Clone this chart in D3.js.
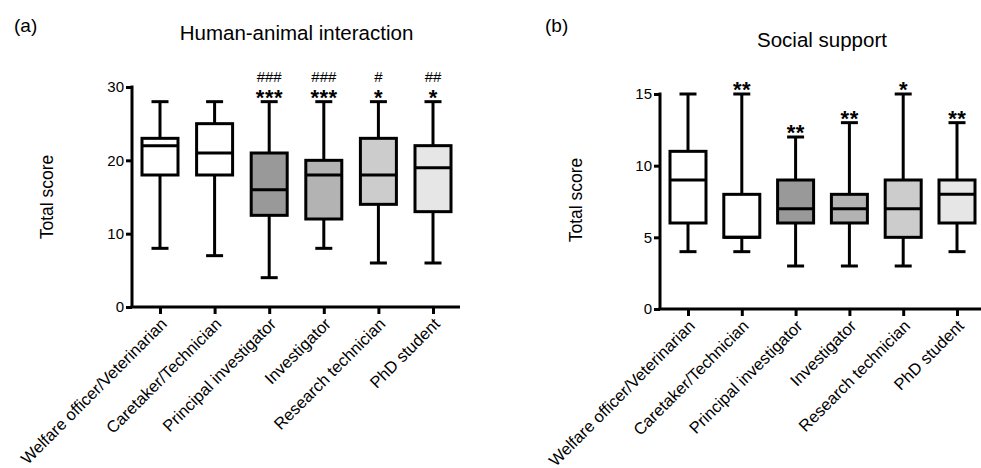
<!DOCTYPE html>
<html>
<head>
<meta charset="utf-8">
<script src="https://cdn.jsdelivr.net/npm/d3@7"></script>
<style>
  body { margin: 0; background: #fff; }
  svg { font-family: "Liberation Sans", Arial, sans-serif; }
</style>
</head>
<body>
<div id="chart"></div>
<script>
// groups (same order in both panels)
var groups = ["Welfare officer/Veterinarian", "Caretaker/Technician", "Principal investigator",
              "Investigator", "Research technician", "PhD student"];
var fills = ["#ffffff", "#ffffff", "#999999", "#b3b3b3", "#cccccc", "#e6e6e6"];

// Human-animal interaction: [min, q1, median, q3, max]
var haiStats = [
    [8, 18, 22, 23, 28],
    [7, 18, 21, 25, 28],
    [4, 12.5, 16, 21, 28],
    [8, 12, 18, 20, 28],
    [6, 14, 18, 23, 28],
    [6, 13, 19, 22, 28]
];
var haiStars = ["", "", "***", "***", "*", "*"];
var haiHash = ["", "", "###", "###", "#", "##"];
var haiTicks = [0, 10, 20, 30];

// Social support
var ssStats = [
    [4, 6, 9, 11, 15],
    [4, 5, 5, 8, 15],
    [3, 6, 7, 9, 12],
    [3, 6, 7, 8, 13],
    [3, 5, 7, 9, 15],
    [4, 6, 8, 9, 13]
];
var ssStars = ["", "**", "**", "**", "*", "**"];
var ssHash = ["", "", "", "", "", ""];
var ssTicks = [0, 5, 10, 15];

var svg = d3.select("#chart").append("svg")
    .attr("width", 981)
    .attr("height", 468);

function panel(opt) {
    var g = svg.append("g");
    var y = d3.scaleLinear().domain([0, opt.max]).range([opt.y0, opt.y1]);
    var x = d3.scalePoint().domain(groups).range([opt.xFirst, opt.xLast]);

    // axes
    var yAxis = g.append("g")
        .attr("transform", `translate(${opt.axisX},0)`)
        .call(d3.axisLeft(y).tickValues(opt.ticks).tickSize(6).tickPadding(2));
    g.append("g")
        .attr("transform", `translate(0,${opt.y0})`)
        .call(d3.axisBottom(x).tickSize(7).tickFormat(""));
    g.selectAll(".domain").remove();
    g.append("line")
        .attr("x1", opt.axisX).attr("x2", opt.axisX)
        .attr("y1", y(opt.max) - 1.5).attr("y2", opt.y0)
        .attr("stroke", "#000").attr("stroke-width", 3);
    g.append("line")
        .attr("x1", opt.axisX - 1.5).attr("x2", opt.xEnd)
        .attr("y1", opt.y0).attr("y2", opt.y0)
        .attr("stroke", "#000").attr("stroke-width", 3);
    g.selectAll(".tick line").attr("stroke", "#000").attr("stroke-width", 3);
    yAxis.selectAll(".tick text")
        .style("font-size", "15px").attr("fill", "#000");

    // rotated category labels
    g.selectAll(".cat")
        .data(groups)
        .enter()
        .append("text")
        .attr("class", "cat")
        .attr("transform", d => `translate(${x(d) + 8},${opt.y0 + 18}) rotate(-45)`)
        .attr("text-anchor", "end")
        .style("font-size", "16.5px")
        .text(d => d);

    var bw = 36, cap = 17;
    var boxes = g.selectAll(".box")
        .data(opt.stats)
        .enter()
        .append("g")
        .attr("transform", (d, i) => `translate(${x(groups[i])},0)`);

    boxes.append("line")
        .attr("y1", d => y(d[0])).attr("y2", d => y(d[4]))
        .attr("stroke", "#000").attr("stroke-width", 3);
    boxes.append("line")
        .attr("x1", -cap / 2).attr("x2", cap / 2)
        .attr("y1", d => y(d[0])).attr("y2", d => y(d[0]))
        .attr("stroke", "#000").attr("stroke-width", 3);
    boxes.append("line")
        .attr("x1", -cap / 2).attr("x2", cap / 2)
        .attr("y1", d => y(d[4])).attr("y2", d => y(d[4]))
        .attr("stroke", "#000").attr("stroke-width", 3);
    boxes.append("rect")
        .attr("x", -bw / 2)
        .attr("y", d => y(d[3]))
        .attr("width", bw)
        .attr("height", d => y(d[1]) - y(d[3]))
        .attr("fill", (d, i) => fills[i])
        .attr("stroke", "#000").attr("stroke-width", 3);
    boxes.append("line")
        .attr("x1", -bw / 2).attr("x2", bw / 2)
        .attr("y1", d => y(d[2])).attr("y2", d => y(d[2]))
        .attr("stroke", "#000").attr("stroke-width", 3);

    // significance marks
    boxes.append("text")
        .attr("y", d => y(d[4]) + 3)
        .attr("text-anchor", "middle")
        .style("font-size", "22px")
        .style("font-weight", "bold")
        .style("letter-spacing", "0.5px")
        .attr("dx", 0.25)
        .text((d, i) => opt.stars[i]);
    boxes.append("text")
        .attr("y", d => y(d[4]) - 20)
        .attr("text-anchor", "middle")
        .style("font-size", "15px")
        .text((d, i) => opt.hash[i]);

    // titles
    svg.append("text")
        .attr("x", opt.labelX).attr("y", 32)
        .style("font-size", "19px")
        .text(opt.label);
    svg.append("text")
        .attr("x", opt.titleX).attr("y", opt.titleY)
        .attr("text-anchor", "middle")
        .style("font-size", "20.5px")
        .text(opt.title);
    svg.append("text")
        .attr("transform", `translate(${opt.ylabX},${opt.ylabY}) rotate(-90)`)
        .attr("text-anchor", "middle")
        .style("font-size", "17.5px")
        .text("Total score");
}

panel({
    stats: haiStats, stars: haiStars, hash: haiHash, ticks: haiTicks, max: 30,
    y0: 307, y1: 87, axisX: 132, xFirst: 160, xLast: 433, xEnd: 460,
    label: "(a)", labelX: 14, title: "Human-animal interaction", titleX: 296.5, titleY: 40,
    ylabX: 53, ylabY: 197
});
panel({
    stats: ssStats, stars: ssStars, hash: ssHash, ticks: ssTicks, max: 15,
    y0: 309, y1: 94, axisX: 660, xFirst: 688, xLast: 957, xEnd: 981,
    label: "(b)", labelX: 545, title: "Social support", titleX: 822, titleY: 47,
    ylabX: 582, ylabY: 200
});
</script>
</body>
</html>
